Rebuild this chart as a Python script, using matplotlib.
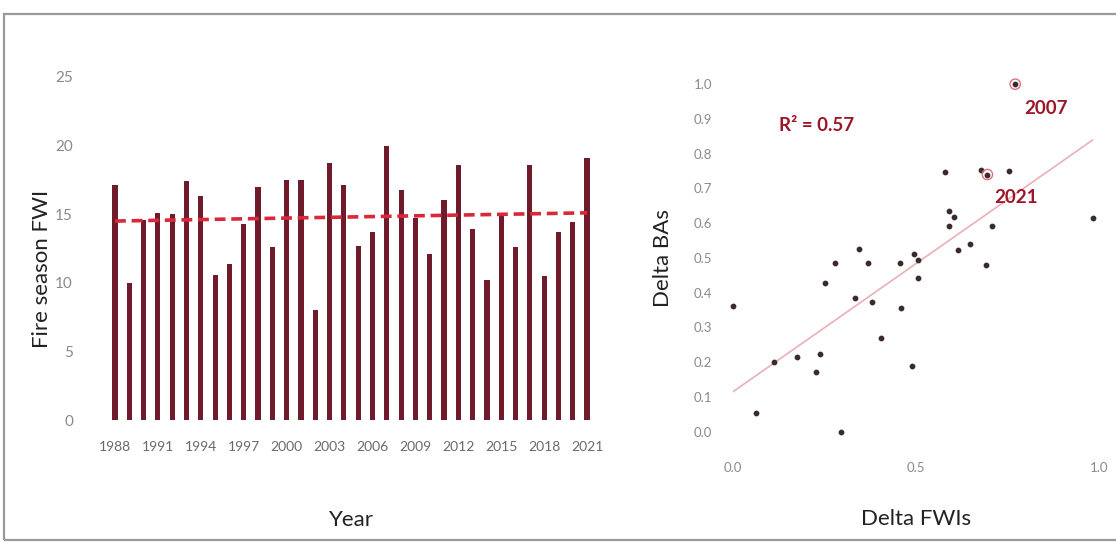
import matplotlib.pyplot as plt
import numpy as np
from matplotlib.patches import Rectangle

# fire season FWI per year (left panel)
years = np.arange(1988, 2022)
fwi = [17.1, 10.0, 14.6, 15.1, 15.0, 17.4, 16.3, 10.6, 11.4, 14.3,
       17.0, 12.6, 17.5, 17.5, 8.0, 18.7, 17.1, 12.7, 13.7, 20.0,
       16.8, 14.7, 12.1, 16.0, 18.6, 13.9, 10.2, 14.9, 12.6, 18.6,
       10.5, 13.7, 14.4, 19.1]
trend_ends = [14.5, 15.1]   # dashed trend line, first and last year
year_ticks = np.arange(1988, 2022, 3)

# delta FWI vs delta BA (right panel)
delta_fwi = [0.0, 0.064, 0.112, 0.175, 0.238, 0.227, 0.25, 0.279, 0.295, 0.332,
             0.345, 0.368, 0.379, 0.405, 0.457, 0.459, 0.489, 0.494, 0.505, 0.505,
             0.579, 0.589, 0.591, 0.605, 0.616, 0.648, 0.677, 0.691, 0.707, 0.755,
             0.984]
delta_ba = [0.361, 0.055, 0.201, 0.216, 0.223, 0.172, 0.429, 0.486, 0.0, 0.386,
            0.527, 0.486, 0.374, 0.270, 0.484, 0.355, 0.190, 0.511, 0.494, 0.441,
            0.746, 0.636, 0.592, 0.618, 0.524, 0.539, 0.753, 0.479, 0.592, 0.750,
            0.614]
highlight_labels = ['2007', '2021']
highlight_fwi = [0.771, 0.695]
highlight_ba = [1.0, 0.740]
fit_x = [0.0, 0.982]
fit_y = [0.115, 0.839]
r2_text = 'R² = 0.57'

bar_color = '#701b2b'
dash_color = '#d8283a'
label_red = '#9c1626'
tick_gray = '#8a8a8a'

fig = plt.figure(figsize=(11.16, 5.43), dpi=100)
plt.rcParams['font.family'] = ['Lato', 'DejaVu Sans']

# frame around the whole figure
fig.patches.append(Rectangle((4 / 1116, 0.005), 1.0, 1 - 14 / 543 - 0.005,
                             transform=fig.transFigure, fill=False,
                             edgecolor='#9a9a9a', linewidth=1.6))

# left panel
ax1 = fig.add_axes([0.0928, 0.2265, 0.4435, 0.6317])
ax1.bar(years, fwi, width=0.36, color=bar_color)
ax1.plot([years[0], years[-1]], trend_ends, linestyle=(0, (3, 1.6)),
         color=dash_color, linewidth=2.6)
ax1.set_xlim(1987.2, 2021.8)
ax1.set_ylim(0, 25)
ax1.set_yticks(np.arange(0, 26, 5))
ax1.set_xticks(year_ticks)
ax1.set_xticklabels([str(y) for y in year_ticks], fontsize=10)
ax1.tick_params(axis='x', length=0, pad=15, colors='#6a6a6a')
ax1.tick_params(axis='y', length=0, pad=22, labelsize=11, colors=tick_gray)
for s in ax1.spines.values():
    s.set_visible(False)
ax1.set_ylabel('Fire season FWI', fontsize=16, color='#222222')
ax1.yaxis.set_label_coords(-0.105, 0.44)
ax1.set_xlabel('Year', fontsize=16, labelpad=41, color='#222222')

# right panel
ax2 = fig.add_axes([0.6568, 0.205, 0.328, 0.640])
ax2.plot(fit_x, fit_y, color='#eab0b6', linewidth=1.2, zorder=1)
ax2.scatter(delta_fwi, delta_ba, s=10, color='#3a2b2d', zorder=3, clip_on=False)
ax2.scatter(highlight_fwi, highlight_ba, s=10, color='#3a2b2d', zorder=3, clip_on=False)
ax2.scatter(highlight_fwi, highlight_ba, s=55, facecolor='none',
            edgecolor='#e07080', linewidth=1.0, zorder=3, clip_on=False)
ax2.text(0.795, 0.93, highlight_labels[0], fontsize=13.5, fontweight='bold',
         color=label_red, va='center')
ax2.text(0.715, 0.675, highlight_labels[1], fontsize=13.5, fontweight='bold',
         color=label_red, va='center')
ax2.text(0.125, 0.88, r2_text, fontsize=13.5, fontweight='bold',
         color=label_red, va='center')
ax2.set_xlim(0, 1)
ax2.set_ylim(0, 1)
ax2.set_xticks([0, 0.5, 1.0])
ax2.set_xticklabels(['0.0', '0.5', '1.0'])
ax2.set_yticks(np.arange(0, 1.01, 0.1))
ax2.set_yticklabels(['%.1f' % v for v in np.arange(0, 1.01, 0.1)])
ax2.tick_params(axis='x', length=0, pad=22, labelsize=9.5, colors=tick_gray)
ax2.tick_params(axis='y', length=0, pad=15, labelsize=9.5, colors=tick_gray)
for s in ax2.spines.values():
    s.set_visible(False)
ax2.set_ylabel('Delta BAs', fontsize=16, color='#222222')
ax2.yaxis.set_label_coords(-0.165, 0.5)
ax2.set_xlabel('Delta FWIs', fontsize=16, labelpad=25, color='#222222')

fig.savefig('out.png', dpi=100)
